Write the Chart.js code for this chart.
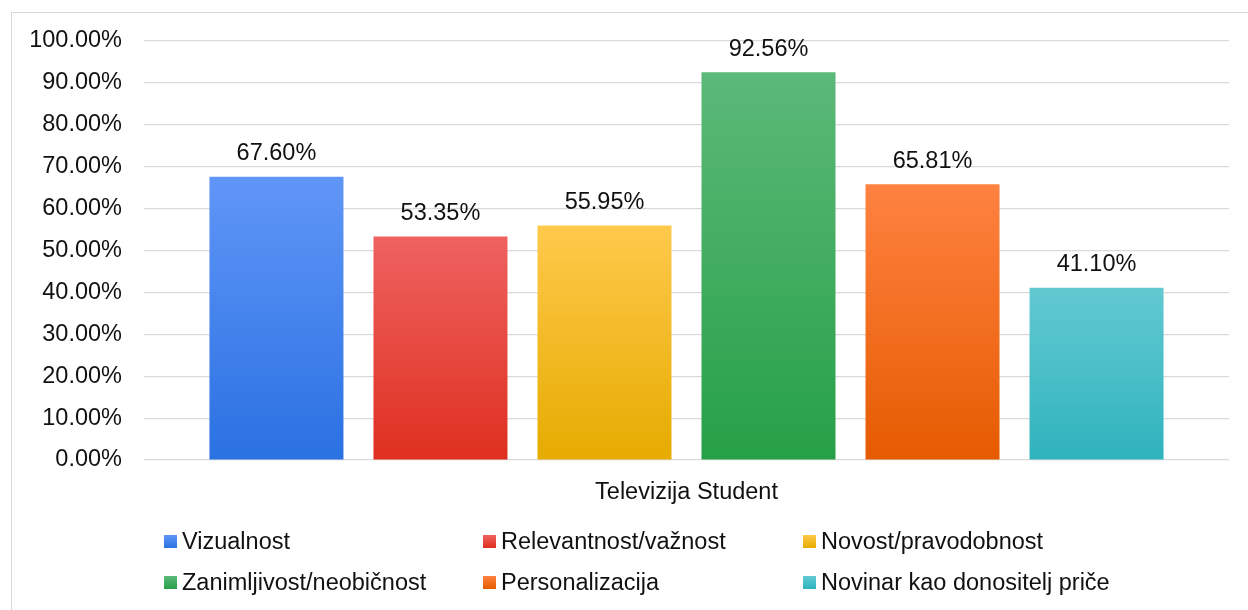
<!DOCTYPE html>
<html>
<head>
<meta charset="utf-8">
<script src="https://cdn.jsdelivr.net/npm/chart.js@4.4.1/dist/chart.umd.min.js"></script>
<style>
  html, body { margin: 0; padding: 0; background: #fff; overflow: hidden; }
  #wrap { position: relative; width: 1248px; height: 610px; }
  #frame { position: absolute; left: 11px; top: 12px; width: 1400px; height: 800px; border: 1px solid #d9d9d9; box-sizing: border-box; }
  canvas { position: absolute; left: 0; top: 0; }
  #legend { position: absolute; left: 0; top: 0; width: 1248px; height: 610px; pointer-events: none;
    font-family: "Liberation Sans", Arial, sans-serif; font-size: 23.5px; color: #111; }
  .item { position: absolute; display: flex; align-items: center; white-space: nowrap; }
  .box { width: 13px; height: 13px; margin-right: 5px; }
</style>
</head>
<body>
<div id="wrap">
  <div id="frame"></div>
  <canvas id="c" width="1248" height="610"></canvas>
  <div id="legend"></div>
</div>
<script>
const categories = ["Televizija Student"];
const seriesNames = ["Vizualnost", "Relevantnost/važnost", "Novost/pravodobnost",
                     "Zanimljivost/neobičnost", "Personalizacija", "Novinar kao donositelj priče"];
const seriesValues = [67.60, 53.35, 55.95, 92.56, 65.81, 41.10];
const colorTop = ["#6096f7", "#ee6260", "#ffc94c", "#5cb979", "#ff8241", "#62c9d1"];
const colorBottom = ["#2a71e2", "#de2f1f", "#e6ab00", "#26a047", "#e55b00", "#2fb3bd"];
const yTicks = [0, 10, 20, 30, 40, 50, 60, 70, 80, 90, 100];

const FONT = "'Liberation Sans', Arial, sans-serif";
const FSIZE = 23.5;

function gradFor(i) {
  return function (ctx) {
    const chart = ctx.chart;
    const ca = chart.chartArea;
    if (!ca) return colorTop[i];
    const ys = chart.scales.y;
    const top = ys.getPixelForValue(seriesValues[i]);
    const bottom = ys.getPixelForValue(0);
    const g = chart.ctx.createLinearGradient(0, top, 0, bottom);
    g.addColorStop(0, colorTop[i]);
    g.addColorStop(1, colorBottom[i]);
    return g;
  };
}

const datasets = seriesNames.map((name, i) => ({
  label: name,
  data: [seriesValues[i]],
  backgroundColor: gradFor(i),
  borderWidth: 0,
  categoryPercentage: 0.907,
  barPercentage: 0.817
}));

const valueLabels = {
  id: "valueLabels",
  afterDatasetsDraw(chart) {
    const ctx = chart.ctx;
    ctx.save();
    ctx.font = FSIZE + "px " + FONT;
    ctx.fillStyle = "#111";
    ctx.textAlign = "center";
    ctx.textBaseline = "middle";
    chart.data.datasets.forEach((ds, di) => {
      const meta = chart.getDatasetMeta(di);
      meta.data.forEach((bar, j) => {
        ctx.fillText(ds.data[j].toFixed(2) + "%", bar.x, bar.y - 23);
      });
    });
    ctx.restore();
  }
};

new Chart(document.getElementById("c"), {
  type: "bar",
  data: { labels: categories, datasets },
  options: {
    responsive: false,
    animation: false,
    devicePixelRatio: 1,
    layout: { padding: { top: 41, right: 19, bottom: 0, left: 0 } },
    plugins: { legend: { display: false }, tooltip: { enabled: false } },
    scales: {
      x: {
        grid: { display: false, drawTicks: false },
        border: { display: false },
        ticks: { color: "#111", font: { family: FONT, size: FSIZE }, padding: 18 },
        afterFit(s) { s.height = 150; }
      },
      y: {
        min: 0, max: 100,
        afterBuildTicks(s) { s.ticks = yTicks.map(v => ({ value: v })); },
        grid: { color: "#d9d9d9", lineWidth: 1.2, drawTicks: false },
        border: { display: false },
        ticks: { color: "#111", font: { family: FONT, size: FSIZE }, padding: 22,
                 callback: v => v.toFixed(2) + "%" },
        afterFit(s) { s.width = 144; }
      }
    }
  },
  plugins: [valueLabels]
});

// legend (3 columns x 2 rows)
const legendCols = [164, 483, 803];
const legendRows = [541, 582];
const legendEl = document.getElementById("legend");
seriesNames.forEach((name, i) => {
  const it = document.createElement("div");
  it.className = "item";
  it.style.left = legendCols[i % 3] + "px";
  it.style.top = (legendRows[Math.floor(i / 3)] - 14) + "px";
  it.style.height = "28px";
  const b = document.createElement("span");
  b.className = "box";
  b.style.background = "linear-gradient(" + colorTop[i] + "," + colorBottom[i] + ")";
  const t = document.createElement("span");
  t.textContent = name;
  it.appendChild(b); it.appendChild(t);
  legendEl.appendChild(it);
});
</script>
</body>
</html>
